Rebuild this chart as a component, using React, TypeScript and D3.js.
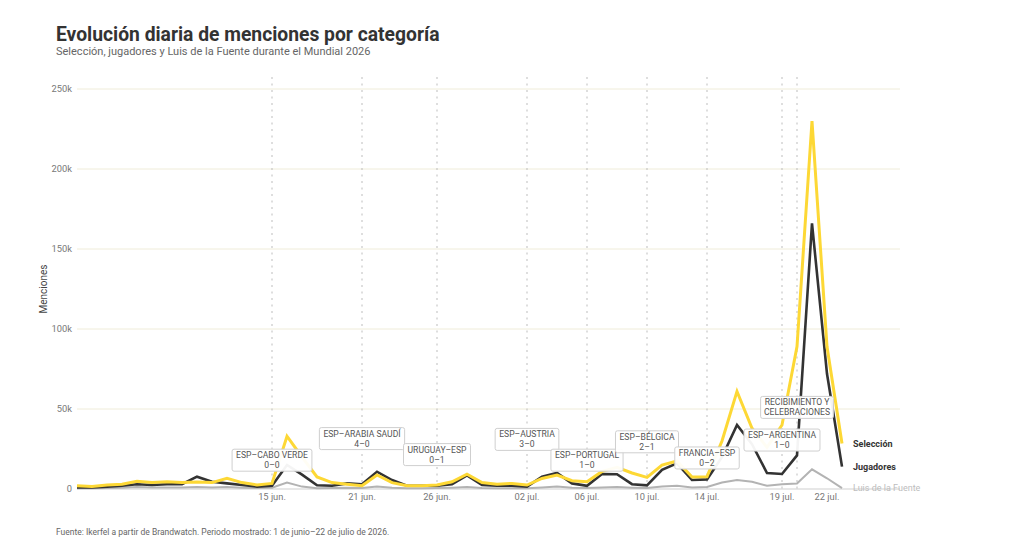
import React, { useEffect, useRef } from "react";
import * as d3 from "d3";

// values in thousands of mentions, one per day
const startDay = new Date(2026, 5, 2);
const seleccion = [
  2, 1.5, 2.5, 3, 4.8, 4, 4.5, 4, 4.4, 4, 6.7, 4, 2.5, 3.5, 33, 20, 7.5, 4, 3, 2,
  8.8, 4, 2, 2, 2.5, 4.5, 9.2, 4, 3, 3.5, 2.5, 6.6, 8.7, 5.2, 4.6, 11, 13.5, 10, 7.3, 15,
  17.5, 7.5, 7.7, 30, 61, 38, 26, 40, 89, 230, 89, 28.5,
];
const jugadores = [
  1, 1, 1.5, 2, 3, 2.5, 3, 3, 7.7, 4.5, 3.5, 2.5, 1.5, 2, 15, 9, 2.3, 2, 3.5, 3,
  10.8, 5.6, 2, 2, 2, 3, 8.5, 2.5, 2, 2, 1.5, 7.7, 10, 3.5, 2, 9.4, 9.2, 3, 2.3, 12,
  16, 5.6, 6, 20, 40, 28, 10, 9.4, 21, 166, 72, 14,
];
const luis = [
  0.5, 0.5, 0.6, 0.8, 1.2, 1, 1, 1, 1.2, 1, 1.2, 0.8, 0.6, 0.8, 4, 1.5, 0.5, 0.6, 0.8, 0.6,
  1.5, 0.8, 0.5, 0.5, 0.6, 0.8, 1.2, 0.6, 0.5, 0.5, 0.5, 1, 1.5, 0.8, 0.6, 1, 1.2, 0.8, 0.6, 1.5,
  2, 1, 1.2, 4, 5.6, 4.5, 2, 3, 3.5, 12.3, 6.7, 0.6,
];

const seriesNames = ["Luis de la Fuente", "Jugadores", "Selección"];
const seriesColors = ["#b3b3b3", "#333333", "#fdd835"];
const seriesWidths = [2, 2.6, 3];

const yTicks = [0, 50000, 100000, 150000, 200000, 250000];
const xTickDates = ["2026-06-15", "2026-06-21", "2026-06-26", "2026-07-02", "2026-07-06", "2026-07-10", "2026-07-14", "2026-07-19", "2026-07-22"];

// events: date, two-line label, and the mention level where the label box sits
const eventDates = ["2026-06-15", "2026-06-21", "2026-06-26", "2026-07-02", "2026-07-06", "2026-07-10", "2026-07-14", "2026-07-19", "2026-07-20"];
const eventTitles = ["ESP–CABO VERDE", "ESP–ARABIA SAUDÍ", "URUGUAY–ESP", "ESP–AUSTRIA", "ESP–PORTUGAL", "ESP–BÉLGICA", "FRANCIA–ESP", "ESP–ARGENTINA", "RECIBIMIENTO Y"];
const eventSubs = ["0–0", "4–0", "0–1", "3–0", "1–0", "2–1", "0–2", "1–0", "CELEBRACIONES"];
const eventLevels = [18000, 31500, 21500, 31000, 18000, 29500, 19400, 30600, 51000];

const esLocale = d3.timeFormatLocale({
  dateTime: "%A, %e de %B de %Y, %X",
  date: "%d/%m/%Y",
  time: "%H:%M:%S",
  periods: ["AM", "PM"],
  days: ["domingo", "lunes", "martes", "miércoles", "jueves", "viernes", "sábado"],
  shortDays: ["dom", "lun", "mar", "mié", "jue", "vie", "sáb"],
  months: ["enero", "febrero", "marzo", "abril", "mayo", "junio", "julio", "agosto", "septiembre", "octubre", "noviembre", "diciembre"],
  shortMonths: ["ene.", "feb.", "mar.", "abr.", "may.", "jun.", "jul.", "ago.", "sep.", "oct.", "nov.", "dic."],
});

const parseDay = d3.timeParse("%Y-%m-%d");
const FONT = "Roboto, 'Noto Sans', sans-serif";

const Chart: React.FC = () => {
  const ref = useRef<SVGSVGElement | null>(null);

  useEffect(() => {
    if (!ref.current) return;
    const svg = d3.select(ref.current);
    svg.selectAll("*").remove();

    const days = seleccion.map((_, i) => d3.timeDay.offset(startDay, i));
    const x = d3.scaleTime().domain([days[0], days[days.length - 1]]).range([77, 842]);
    const y = d3.scaleLinear().domain([0, 250000]).range([489, 89]);
    const gridRight = 900;

    // title
    svg.append("text").attr("x", 56).attr("y", 41).attr("font-family", FONT).attr("font-weight", 700)
      .attr("font-size", 19.3).attr("fill", "#333").text("Evolución diaria de menciones por categoría");
    svg.append("text").attr("x", 56).attr("y", 55).attr("font-family", FONT)
      .attr("font-size", 11).attr("fill", "#666").text("Selección, jugadores y Luis de la Fuente durante el Mundial 2026");

    // grid
    const grid = svg.append("g");
    grid.selectAll("line").data(yTicks).enter().append("line")
      .attr("x1", 77).attr("x2", gridRight)
      .attr("y1", (d) => y(d)).attr("y2", (d) => y(d))
      .attr("stroke", (d) => (d === 0 ? "#cfcfcf" : "#efecd9")).attr("stroke-width", 1);
    grid.selectAll("text").data(yTicks).enter().append("text")
      .attr("x", 72).attr("y", (d) => y(d)).attr("dy", "0.35em").attr("text-anchor", "end")
      .attr("font-family", FONT).attr("font-size", 9.3).attr("fill", "#777")
      .text((d) => (d === 0 ? "0" : `${d / 1000}k`));

    svg.append("text").attr("transform", `translate(47,${(y(0) + y(250000)) / 2}) rotate(-90)`)
      .attr("text-anchor", "middle").attr("font-family", FONT).attr("font-size", 10).attr("fill", "#444")
      .text("Menciones");

    // event lines
    const evDates = eventDates.map((d) => parseDay(d) as Date);
    svg.append("g").selectAll("line").data(evDates).enter().append("line")
      .attr("x1", (d) => x(d)).attr("x2", (d) => x(d)).attr("y1", 77).attr("y2", y(0))
      .attr("stroke", "#bdbdbd").attr("stroke-width", 1).attr("stroke-dasharray", "2,4.5");

    // x ticks
    const fmt = esLocale.format("%d %b");
    svg.append("g").selectAll("text").data(xTickDates.map((d) => parseDay(d) as Date)).enter().append("text")
      .attr("x", (d) => x(d)).attr("y", 497).attr("dy", "0.35em").attr("text-anchor", "middle")
      .attr("font-family", FONT).attr("font-size", 9.3).attr("fill", "#777")
      .text((d) => fmt(d));

    // lines
    const allSeries = [luis, jugadores, seleccion];
    const line = d3.line<number>().x((_, i) => x(days[i])).y((d) => y(d * 1000));
    allSeries.forEach((s, k) => {
      svg.append("path").datum(s).attr("d", line).attr("fill", "none")
        .attr("stroke", seriesColors[k]).attr("stroke-width", seriesWidths[k])
        .attr("stroke-linejoin", "miter");
    });

    // end labels
    allSeries.forEach((s, k) => {
      svg.append("text").attr("x", 853).attr("y", y(s[s.length - 1] * 1000)).attr("dy", "0.35em")
        .attr("font-family", FONT).attr("font-size", 9)
        .attr("font-weight", k === 0 ? 400 : 700)
        .attr("fill", k === 0 ? "#bdbdbd" : "#333")
        .text(seriesNames[k]);
    });

    // event labels
    evDates.forEach((d, i) => {
      const g = svg.append("g").attr("transform", `translate(${x(d)},${y(eventLevels[i])})`);
      const rect = g.append("rect");
      const t1 = g.append("text").attr("y", -5).attr("dy", "0.35em").attr("text-anchor", "middle")
        .attr("font-family", FONT).attr("font-size", 8.6).attr("fill", "#555").text(eventTitles[i]);
      g.append("text").attr("y", 5).attr("dy", "0.35em").attr("text-anchor", "middle")
        .attr("font-family", FONT).attr("font-size", 8.6).attr("fill", "#555").text(eventSubs[i]);
      const w = (t1.node() as SVGTextElement).getComputedTextLength() + 8;
      rect.attr("x", -w / 2).attr("y", -11).attr("width", w).attr("height", 22).attr("rx", 2)
        .attr("fill", "#fff").attr("fill-opacity", 0.95).attr("stroke", "#cfcfcf").attr("stroke-width", 1);
    });

    // caption
    svg.append("text").attr("x", 56).attr("y", 535).attr("font-family", FONT)
      .attr("font-size", 8.5).attr("fill", "#666")
      .text("Fuente: Ikerfel a partir de Brandwatch. Periodo mostrado: 1 de junio–22 de julio de 2026.");
  }, []);

  return <svg ref={ref} width={1024} height={556} style={{ position: "absolute", left: 0, top: 0, background: "#fff" }} />;
};

export default function App() {
  return <Chart />;
}
